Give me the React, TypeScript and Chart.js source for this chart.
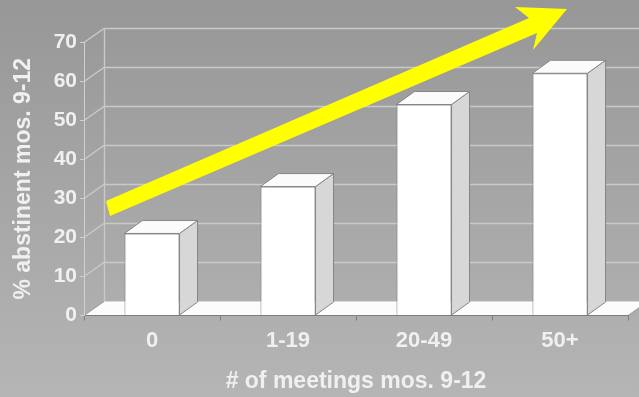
import React, { useEffect, useRef } from 'react';
import { Chart, registerables } from 'chart.js';

Chart.register(...registerables);

// ---- data ----
const categories = ['0', '1-19', '20-49', '50+'];
const abstinentPct = [21, 33, 54, 62];
const yTickValues = [0, 10, 20, 30, 40, 50, 60, 70];
const xAxisTitle = '# of meetings mos. 9-12';
const yAxisTitle = '% abstinent mos. 9-12';

// ---- style constants ----
const FONT = "'Liberation Sans', Arial, sans-serif";
const TEXT = '#f0f0f0';
const WALL_DX = 20;
const WALL_DY = 14;
const BAR_DX = 18;
const BAR_DY = 13;

function poly(ctx: CanvasRenderingContext2D, pts: number[][]) {
  ctx.beginPath();
  ctx.moveTo(pts[0][0], pts[0][1]);
  for (let i = 1; i < pts.length; i++) ctx.lineTo(pts[i][0], pts[i][1]);
  ctx.closePath();
}

const backdrop = {
  id: 'backdrop',
  beforeDraw(chart: any) {
    const { ctx, width, height, chartArea, scales } = chart;
    const y = scales.y;
    const L = chartArea.left;
    const R = chartArea.right;
    const B = chartArea.bottom;
    ctx.save();
    const g = ctx.createLinearGradient(0, 0, 0, height);
    g.addColorStop(0, '#979797');
    g.addColorStop(1, '#b5b5b5');
    ctx.fillStyle = g;
    ctx.fillRect(0, 0, width, height);

    // back wall gridlines + left side wall diagonals
    ctx.strokeStyle = '#c9c9c9';
    ctx.lineWidth = 1.4;
    for (const v of yTickValues) {
      const py = Math.round(y.getPixelForValue(v)) + 0.5;
      ctx.beginPath();
      ctx.moveTo(L, py);
      ctx.lineTo(L + WALL_DX, py - WALL_DY);
      ctx.lineTo(width, py - WALL_DY);
      ctx.stroke();
    }
    const topY = Math.round(y.getPixelForValue(yTickValues[yTickValues.length - 1])) + 0.5;
    ctx.beginPath();
    ctx.moveTo(L + WALL_DX + 0.5, topY - WALL_DY);
    ctx.lineTo(L + WALL_DX + 0.5, B - WALL_DY);
    ctx.stroke();

    // floor
    ctx.fillStyle = '#fcfcfc';
    poly(ctx, [[L, B], [R, B], [R + WALL_DX, B - WALL_DY], [L + WALL_DX, B - WALL_DY]]);
    ctx.fill();
    ctx.lineWidth = 1;
    ctx.strokeStyle = '#9a9a9a';
    ctx.beginPath();
    ctx.moveTo(R, B);
    ctx.lineTo(R + WALL_DX, B - WALL_DY);
    ctx.moveTo(L, B);
    ctx.lineTo(L + WALL_DX, B - WALL_DY);
    ctx.stroke();
    ctx.restore();
  },
};

const bar3d = {
  id: 'bar3d',
  afterDatasetsDraw(chart: any) {
    const ctx = chart.ctx;
    const meta = chart.getDatasetMeta(0);
    ctx.save();
    ctx.lineWidth = 1;
    ctx.strokeStyle = '#858585';
    ctx.lineJoin = 'round';
    meta.data.forEach((el: any) => {
      const { x, y, base, width } = el.getProps(['x', 'y', 'base', 'width'], true);
      const l = x - width / 2;
      const r = x + width / 2;
      ctx.fillStyle = '#d7d7d7';
      poly(ctx, [[r, y], [r + BAR_DX, y - BAR_DY], [r + BAR_DX, base - BAR_DY], [r, base]]);
      ctx.fill();
      ctx.stroke();
      ctx.fillStyle = '#fbfbfb';
      poly(ctx, [[l, y], [l + BAR_DX, y - BAR_DY], [r + BAR_DX, y - BAR_DY], [r, y]]);
      ctx.fill();
      ctx.stroke();
    });
    ctx.restore();
  },
};

const arrow = {
  id: 'arrow',
  afterDraw(chart: any) {
    const ctx = chart.ctx;
    ctx.save();
    ctx.fillStyle = '#ffff00';
    poly(ctx, [
      [106, 201],
      [529, 18],
      [515, 7],
      [567, 9],
      [533, 50],
      [537, 33],
      [110, 216],
    ]);
    ctx.fill();
    ctx.restore();
  },
};

export default function App() {
  const ref = useRef<HTMLCanvasElement | null>(null);

  useEffect(() => {
    if (!ref.current) return;
    const chart = new Chart(ref.current, {
      type: 'bar',
      data: {
        labels: categories,
        datasets: [
          {
            data: abstinentPct,
            backgroundColor: '#ffffff',
            borderColor: '#858585',
            borderWidth: 1,
            barPercentage: 0.405,
            categoryPercentage: 1,
          },
        ],
      },
      options: {
        responsive: false,
        animation: false,
        devicePixelRatio: 1,
        layout: { padding: { top: 42, right: 11, left: 0, bottom: 0 } },
        plugins: {
          legend: { display: false },
          tooltip: { enabled: false },
        },
        scales: {
          x: {
            ticks: {
              color: TEXT,
              font: { size: 22, weight: 'bold', family: FONT },
              padding: 7,
              maxRotation: 0,
            },
            grid: { drawOnChartArea: false, drawTicks: true, tickLength: 5, color: '#7d7d7d', offset: true },
            border: { display: true, color: '#7d7d7d' },
            title: {
              display: true,
              text: xAxisTitle,
              color: TEXT,
              font: { size: 23, weight: 'bold', family: FONT },
              padding: { top: 2, bottom: 2 },
            },
            afterFit: (s: any) => {
              s.height = 81.5;
            },
          },
          y: {
            min: 0,
            max: 70,
            ticks: {
              stepSize: 10,
              color: TEXT,
              font: { size: 21, weight: 'bold', family: FONT },
              padding: 3,
            },
            afterBuildTicks: (s: any) => {
              s.ticks = yTickValues.map((v) => ({ value: v }));
            },
            grid: { drawOnChartArea: false, drawTicks: true, tickLength: 4, color: '#d0d0d0' },
            border: { display: true, color: '#d0d0d0' },
            title: {
              display: true,
              text: yAxisTitle,
              color: TEXT,
              font: { size: 23, weight: 'bold', family: FONT },
              padding: { top: 10, bottom: 10 },
            },
            afterFit: (s: any) => {
              s.width = 84;
            },
          },
        },
      },
      plugins: [backdrop, bar3d, arrow],
    } as any);
    return () => chart.destroy();
  }, []);

  return (
    <div style={{ position: 'absolute', left: 0, top: 0, width: 639, height: 397 }}>
      <canvas ref={ref} width={639} height={397} style={{ width: 639, height: 397, display: 'block' }} />
    </div>
  );
}
